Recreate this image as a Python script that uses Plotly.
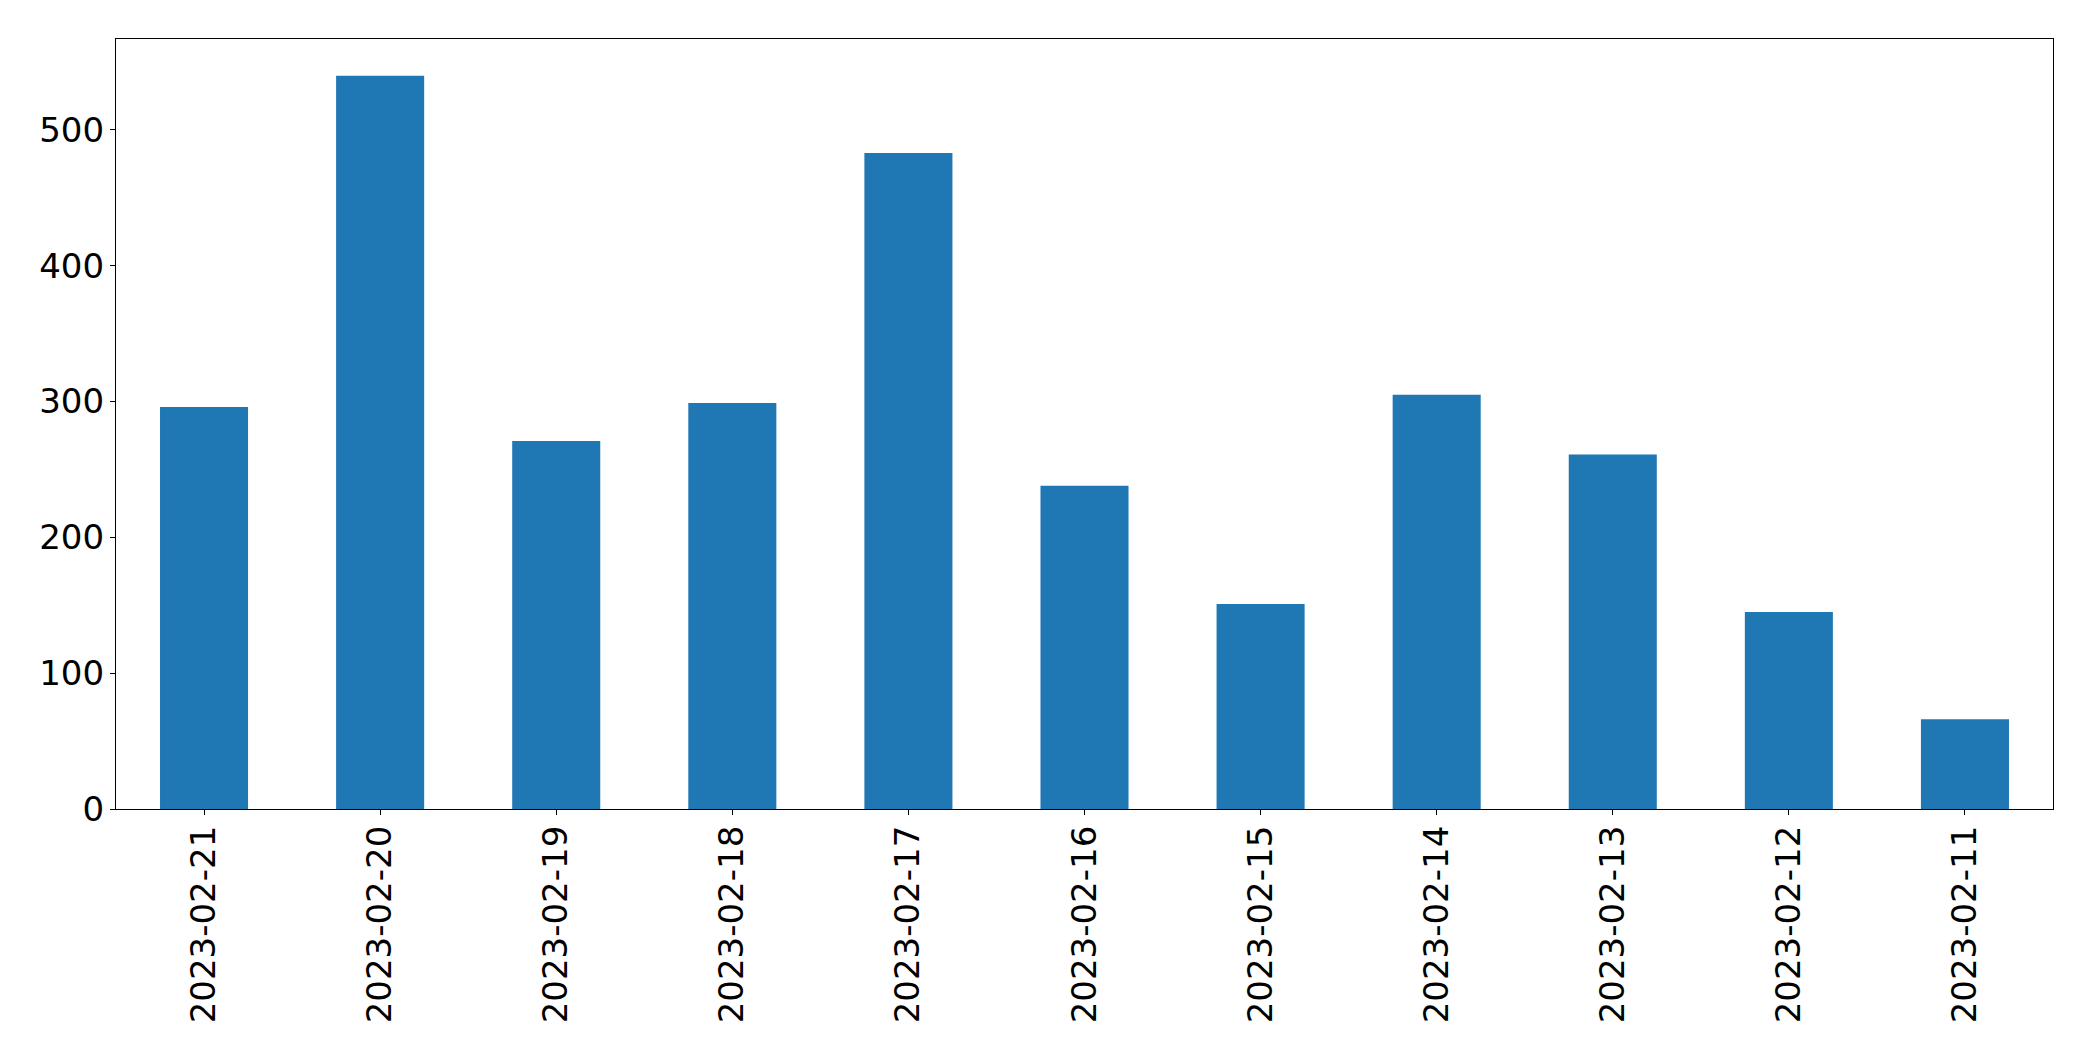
import plotly.graph_objects as go

dates = ["2023-02-21", "2023-02-20", "2023-02-19", "2023-02-18", "2023-02-17",
         "2023-02-16", "2023-02-15", "2023-02-14", "2023-02-13", "2023-02-12",
         "2023-02-11"]
counts = [296, 540, 271, 299, 483, 238, 151, 305, 261, 145, 66]
y_ticks = [0, 100, 200, 300, 400, 500]

fig = go.Figure(go.Bar(
    x=dates, y=counts, width=0.5,
    marker=dict(color="#1f77b4", line=dict(width=0)),
))

font = dict(family="DejaVu Sans", size=34, color="black")
fig.update_layout(
    width=2093, height=1061,
    margin=dict(l=116, r=40, t=39, b=252),
    plot_bgcolor="white", paper_bgcolor="white",
    showlegend=False,
    font=font,
)
fig.update_xaxes(
    type="category", range=[-0.5, 10.5], tickangle=-90,
    showline=True, linecolor="black", linewidth=1.3, mirror=True,
    ticks="outside", ticklen=5, tickwidth=1.3, tickcolor="black",
    showgrid=False, zeroline=False, tickfont=font, ticklabelstandoff=-3,
)
fig.update_yaxes(
    range=[0, 567], tickvals=y_ticks,
    showline=True, linecolor="black", linewidth=1.3, mirror=True,
    ticks="outside", ticklen=5, tickwidth=1.3, tickcolor="black",
    showgrid=False, zeroline=False, tickfont=font, ticklabelstandoff=-1,
)
fig.write_html("out.html")
